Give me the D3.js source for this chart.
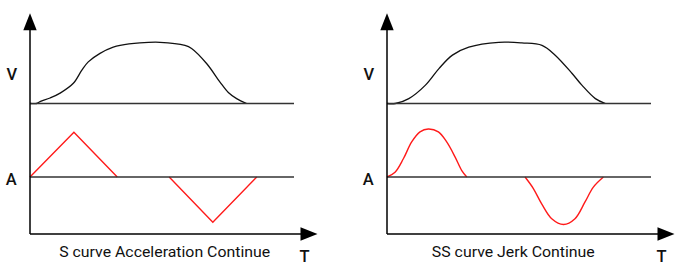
<!DOCTYPE html>
<html>
<head>
<meta charset="utf-8">
<script src="https://cdn.jsdelivr.net/npm/d3@7"></script>
<style>
  body { margin: 0; background: #fff; }
  svg { display: block; }
</style>
</head>
<body>
<svg width="684" height="273"></svg>
<script>
// captions of the two diagrams
var captions = ["S curve Acceleration Continue", "SS curve Jerk Continue"];

// [time, velocity] - velocity normalised 0..1
var sVelocity = [[0,0],[0.23,0],[0.35,0.03],[0.70,0.09],[1.05,0.17],[1.51,0.33],[1.80,0.54],[2.03,0.68],
  [2.44,0.82],[2.90,0.92],[3.14,0.95],[3.83,0.99],[4.53,1.0],[5.40,0.95],[5.63,0.90],[6.16,0.65],
  [6.62,0.35],[6.91,0.18],[7.20,0.08],[7.55,0]];
// [time, acceleration]
var sAccelUp = [[0,0],[1.53,0.93],[3.04,0]];
var sAccelDown = [[4.85,0],[6.37,-0.94],[7.90,0]];

var ssVelocity = [[0,0],[0.29,0],[0.76,0.08],[1.34,0.30],[1.81,0.57],[2.28,0.79],[2.85,0.92],[3.89,1.0],
  [4.70,0.99],[5.40,0.95],[5.86,0.79],[6.45,0.49],[6.79,0.30],[7.26,0.08],[7.61,0]];
var ssAccelUp = [[0,0],[0.28,0.10],[0.57,0.38],[0.86,0.73],[1.15,0.94],[1.44,1.0],[1.79,0.94],
  [2.08,0.73],[2.37,0.42],[2.60,0.14],[2.78,0]];
var ssAccelDown = [[4.81,0],[5.10,-0.24],[5.39,-0.56],[5.74,-0.87],[6.15,-0.99],[6.55,-0.87],
  [6.90,-0.52],[7.19,-0.21],[7.54,0]];

var velocities = [sVelocity, ssVelocity];
var accelUps = [sAccelUp, ssAccelUp];
var accelDowns = [sAccelDown, ssAccelDown];

var svg = d3.select("svg");

var originX = [30, 387];
var captionX = [134.7, 126.3];
var captionW = [211, 163];

// shared scales (panel local)
var x = d3.scaleLinear().domain([0, 10]).range([0, 287]);
var yV = d3.scaleLinear().domain([0, 1]).range([103.5, 42.3]);
var yA = d3.scaleLinear().domain([-1, 1]).range([225, 129]);

var vLine = d3.line().x(function(d) { return x(d[0]); }).y(function(d) { return yV(d[1]); })
  .curve(d3.curveCatmullRom.alpha(0.5));
var aLineStraight = d3.line().x(function(d) { return x(d[0]); }).y(function(d) { return yA(d[1]); });
var aLineSmooth = d3.line().x(function(d) { return x(d[0]); }).y(function(d) { return yA(d[1]); })
  .curve(d3.curveCatmullRom.alpha(0.5));

var axisTop = 13.3, axisBottom = 234, arrowLen = 17, arrowHalf = 6.7;
var axisEnd = 287.5, baseEnd = 264;

for (var p = 0; p < 2; p++) {
  var g = svg.append("g").attr("transform", "translate(" + originX[p] + ",0)");

  // red acceleration curves
  var aLine = p == 0 ? aLineStraight : aLineSmooth;
  [accelUps[p], accelDowns[p]].forEach(function(seg) {
    g.append("path")
      .attr("d", aLine(seg))
      .attr("fill", "none")
      .attr("stroke", "#ff1a1a")
      .attr("stroke-width", 1.4);
  });

  // velocity curve
  g.append("path")
    .attr("d", vLine(velocities[p]))
    .attr("fill", "none")
    .attr("stroke", "#111")
    .attr("stroke-width", 1.3);

  // baselines for V and A
  [yV(0), yA(0)].forEach(function(yy) {
    g.append("line")
      .attr("x1", 0).attr("x2", baseEnd)
      .attr("y1", yy).attr("y2", yy)
      .attr("stroke", "#333")
      .attr("stroke-width", 1.5);
  });

  // axes with arrows
  g.append("line")
    .attr("x1", 0).attr("x2", 0)
    .attr("y1", axisTop + arrowLen - 1).attr("y2", axisBottom)
    .attr("stroke", "#000").attr("stroke-width", 1.5);
  g.append("line")
    .attr("x1", 0).attr("x2", axisEnd - arrowLen + 1)
    .attr("y1", axisBottom).attr("y2", axisBottom)
    .attr("stroke", "#000").attr("stroke-width", 1.5);
  g.append("path")
    .attr("d", "M0," + axisTop + "L" + arrowHalf + "," + (axisTop + arrowLen) + "L" + (-arrowHalf) + "," + (axisTop + arrowLen) + "Z")
    .attr("fill", "#000");
  g.append("path")
    .attr("d", "M" + axisEnd + "," + axisBottom + "L" + (axisEnd - arrowLen) + "," + (axisBottom - arrowHalf) + "L" + (axisEnd - arrowLen) + "," + (axisBottom + arrowHalf) + "Z")
    .attr("fill", "#000");

  // axis letters
  g.append("text")
    .attr("x", -18.3).attr("y", 79.5)
    .attr("text-anchor", "middle")
    .attr("font-family", "Roboto, sans-serif")
    .attr("font-size", "16.5px")
    .attr("font-weight", 500)
    .attr("fill", "#111")
    .text("V");
  g.append("text")
    .attr("x", -18.8).attr("y", 184.5)
    .attr("text-anchor", "middle")
    .attr("font-family", "Roboto, sans-serif")
    .attr("font-size", "16.5px")
    .attr("font-weight", 500)
    .attr("fill", "#111")
    .text("A");
  g.append("text")
    .attr("x", 274.5).attr("y", 262)
    .attr("text-anchor", "middle")
    .attr("font-family", "Roboto, sans-serif")
    .attr("font-size", "16.5px")
    .attr("font-weight", 500)
    .attr("fill", "#111")
    .text("T");

  // caption
  g.append("text")
    .attr("x", captionX[p]).attr("y", 257)
    .attr("text-anchor", "middle")
    .attr("font-family", "Roboto, sans-serif")
    .attr("font-size", "14.5px")
    .attr("textLength", captionW[p])
    .attr("lengthAdjust", "spacingAndGlyphs")
    .attr("fill", "#111")
    .text(captions[p]);
}
</script>
</body>
</html>
